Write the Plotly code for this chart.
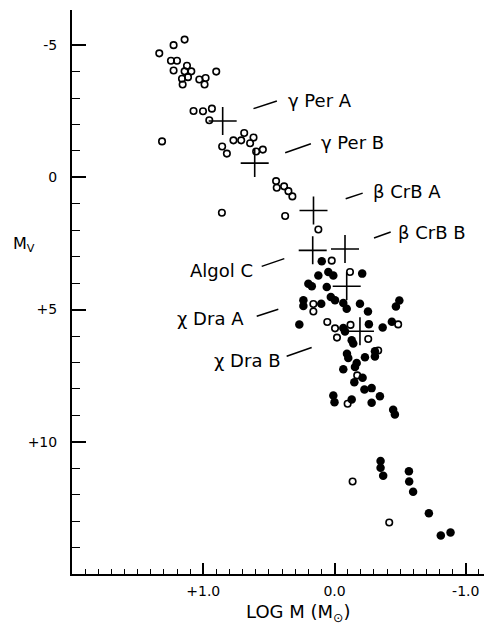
import plotly.graph_objects as go

# ---------------- data ----------------
open_logm = [1.142, 1.226, 1.335, 1.246, 1.200, 1.124, 1.226, 1.142, 1.091, 0.901,
             1.116, 1.162, 1.030, 0.982, 1.157, 0.990, 1.074, 1.002, 0.934, 0.954,
             1.314, 0.856, 0.820, 0.770, 0.711, 0.688, 0.643, 0.617, 0.597, 0.546,
             0.445, 0.440, 0.384, 0.351, 0.321, 0.858, 0.376, 0.123,
             0.021, -0.118, 0.161, 0.161, 0.055, -0.004, -0.019, -0.122, -0.257,
             -0.485, -0.333, -0.173, -0.100, -0.138, -0.417]
open_mv = [-5.21, -5.00, -4.69, -4.41, -4.41, -4.22, -4.04, -4.01, -4.01, -4.00,
           -3.79, -3.73, -3.70, -3.76, -3.51, -3.51, -2.51, -2.50, -2.60, -2.16,
           -1.36, -1.17, -0.90, -1.40, -1.40, -1.68, -1.29, -1.51, -0.98, -1.05,
           0.14, 0.39, 0.34, 0.52, 0.72, 1.34, 1.46, 1.97,
           3.15, 3.58, 4.79, 5.07, 5.47, 5.71, 6.06, 5.58, 6.11,
           5.56, 6.55, 7.49, 8.56, 11.50, 13.05]

filled_logm = [0.097, -0.211, 0.123, 0.047, 0.009, 0.199, 0.173, 0.059, 0.237, 0.237,
               0.101, 0.028, -0.004, -0.067, -0.093, -0.194, -0.255, -0.468, -0.494, 0.268,
               -0.067, -0.080, -0.131, -0.143, -0.262, -0.367, -0.437, -0.095, -0.105, -0.169,
               -0.232, -0.308, -0.308, -0.067, -0.156, -0.214, -0.151, -0.228, -0.283, -0.346,
               0.009, 0.000, -0.131, -0.283, -0.447, -0.460, -0.351, -0.351, -0.371, -0.567,
               -0.569, -0.599, -0.719, -0.810, -0.884]
filled_mv = [3.17, 3.64, 3.71, 3.58, 3.71, 4.02, 4.12, 4.15, 4.65, 4.86,
             4.78, 4.52, 4.65, 4.75, 4.97, 4.78, 5.07, 4.88, 4.66, 5.56,
             5.70, 5.83, 6.16, 6.28, 5.55, 5.68, 5.46, 6.67, 6.83, 7.02,
             6.80, 6.58, 6.77, 7.26, 7.17, 7.58, 7.75, 8.02, 7.97, 8.28,
             8.25, 8.50, 8.40, 8.52, 8.79, 8.97, 10.73, 10.98, 11.28, 11.11,
             11.50, 11.89, 12.70, 13.54, 13.43]

star_names = ["γ Per A", "γ Per B", "β CrB A", "Algol C", "β CrB B", "χ Dra A", "χ Dra B"]
star_logm = [0.852, 0.608, 0.160, 0.166, -0.080, -0.093, -0.194]
star_mv = [-2.13, -0.54, 1.25, 2.76, 2.71, 4.12, 5.82]

x_tickvals = [1.0, 0.0, -1.0]
x_ticktext = ["+1.0", "0.0", "-1.0"]
y_tickvals = [-5, 0, 5, 10]
y_ticktext = ["-5", "0", "+5", "+10"]

# ---------------- label layout (pixel offsets from each star) ----------------
# name: (anchor, text dx, text dy, leader x0, y0, x1, y1)   (dy positive = up)
label_layout = {
    "γ Per A": ("left", 63.5, 20.7, 30.8, 12.4, 54.2, 20.0),
    "γ Per B": ("left", 64.2, 21.0, 30.5, 10.4, 56.2, 19.4),
    "β CrB A": ("left", 57.2, 19.0, 32.2, 11.7, 49.2, 17.3),
    "β CrB B": ("left", 51.3, 17.0, 29.0, 11.0, 45.7, 17.0),
    "Algol C": ("right", -57.7, -20.0, -51.0, -16.0, -28.4, -8.3),
    "χ Dra A": ("right", -100.7, -32.0, -90.0, -30.0, -68.4, -23.0),
    "χ Dra B": ("right", -78.0, -29.0, -73.3, -25.0, -48.3, -16.3),
}

FONT = "DejaVu Sans"

# page body adds an 8 px offset; figure is sized so that the plot area lands
# at x 72..492, y 10..574 of the screenshot
OFF = 8
W, H = 492 - OFF, 627 - OFF
ML, MR, MT, MB = 72 - OFF, 0, 10 - OFF, 53
PW, PH = W - ML - MR, H - MT - MB


def paper_xy(px, py):
    fx, fy = px - OFF, py - OFF
    return (fx - ML) / PW, 1 - (fy - MT) / PH


fig = go.Figure()
fig.add_trace(go.Scatter(x=open_logm, y=open_mv, mode="markers",
                         marker=dict(symbol="circle-open", size=6.5, color="black",
                                     line=dict(width=1.6, color="black")),
                         showlegend=False, hoverinfo="skip"))
fig.add_trace(go.Scatter(x=filled_logm, y=filled_mv, mode="markers",
                         marker=dict(symbol="circle", size=8.5, color="black", line=dict(width=0)),
                         showlegend=False, hoverinfo="skip"))
fig.add_trace(go.Scatter(x=star_logm, y=star_mv, mode="markers",
                         marker=dict(symbol="cross-thin", size=20, color="black",
                                     line=dict(width=1.6, color="black")),
                         showlegend=False, hoverinfo="skip"))

for name, lx, ly in zip(star_names, star_logm, star_mv):
    anchor, tdx, tdy, x0, y0, x1, y1 = label_layout[name]
    fig.add_annotation(x=lx, y=ly, xref="x", yref="y", text=name, showarrow=False,
                       xanchor=anchor, yanchor="middle", xshift=tdx, yshift=tdy,
                       font=dict(family=FONT, size=18, color="black"))
    fig.add_shape(type="line", xref="x", yref="y", xsizemode="pixel", ysizemode="pixel",
                  xanchor=lx, yanchor=ly, x0=x0, y0=y0, x1=x1, y1=y1,
                  line=dict(color="black", width=1.5))

x_minor = [round(-1.2 + 0.1 * i, 1) for i in range(33)]
x_minor = [v for v in x_minor if v not in x_tickvals]
y_minor = [v for v in range(-5, 16) if v not in y_tickvals]

fig.update_xaxes(range=[2.0, -1.2], showline=True, linecolor="black", linewidth=2,
                 showgrid=False, zeroline=False, ticks="inside", ticklen=11, tickwidth=1.6,
                 tickcolor="black", tickmode="array", tickvals=x_tickvals, ticktext=x_ticktext,
                 tickfont=dict(family=FONT, size=14, color="black"), ticklabelstandoff=3,
                 automargin=False,
                 minor=dict(tickmode="array", tickvals=x_minor, ticks="inside", ticklen=5,
                            tickwidth=1.4, tickcolor="black", showgrid=False))
fig.update_yaxes(range=[15, -6.33], showline=True, linecolor="black", linewidth=2,
                 showgrid=False, zeroline=False, ticks="inside", ticklen=14, tickwidth=1.6,
                 tickcolor="black", tickmode="array", tickvals=y_tickvals, ticktext=y_ticktext,
                 tickfont=dict(family=FONT, size=14, color="black"), ticklabelstandoff=10,
                 automargin=False,
                 minor=dict(tickmode="array", tickvals=y_minor, ticks="inside", ticklen=8,
                            tickwidth=1.4, tickcolor="black", showgrid=False))

tx, ty = paper_xy(298, 613)
fig.add_annotation(x=tx, y=ty, xref="paper", yref="paper",
                   text="LOG M (M<sub>⊙</sub>)", showarrow=False, xanchor="center", yanchor="middle",
                   font=dict(family=FONT, size=18, color="black"))
mx, my = paper_xy(24, 244)
fig.add_annotation(x=mx, y=my, xref="paper", yref="paper",
                   text="M<sub>V</sub>", showarrow=False, xanchor="center", yanchor="middle",
                   font=dict(family=FONT, size=16, color="black"))

fig.update_layout(width=W, height=H, margin=dict(l=ML, r=MR, t=MT, b=MB),
                  plot_bgcolor="white", paper_bgcolor="white")
fig.write_html("out.html")
